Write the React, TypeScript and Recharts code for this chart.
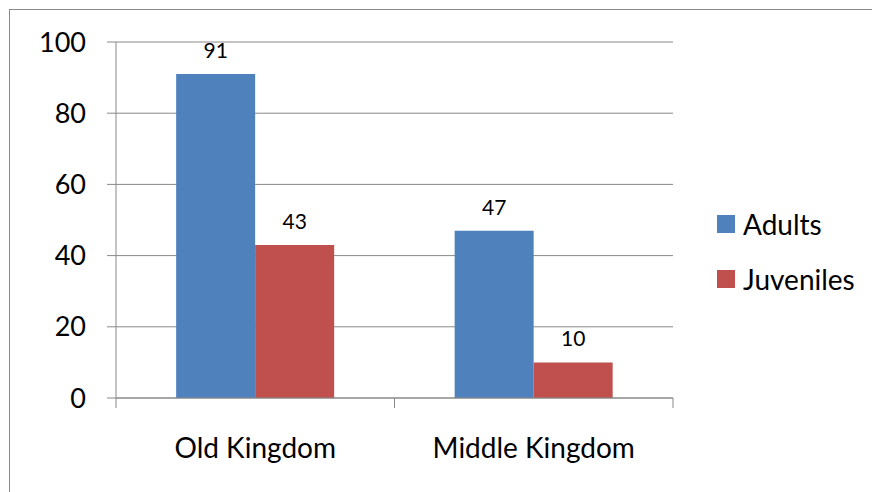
import React from 'react';
import { BarChart, Bar, XAxis, YAxis, CartesianGrid, Legend, LabelList } from 'recharts';

const periods = ['Old Kingdom', 'Middle Kingdom'];
const adults = [91, 47];
const juveniles = [43, 10];
const yTicks = [0, 20, 40, 60, 80, 100];

const BLUE = '#4F81BD';
const RED = '#C0504D';
const GRAY = '#898989';
const FONT = 'Lato, "Open Sans", sans-serif';
const LABEL_GAP = 40;

const data = periods.map((p, i) => ({ period: p, Adults: adults[i], Juveniles: juveniles[i] }));

const seriesList = [
  { key: 'Adults', color: BLUE },
  { key: 'Juveniles', color: RED },
];

// category label plus Excel-style tick marks on the category boundaries
const CategoryTick = (props: any) => {
  const { x, y, payload, index, visibleTicksCount } = props;
  const half = payload.offset || 0;
  const axisY = y - LABEL_GAP;
  return (
    <g>
      <line x1={x - half} x2={x - half} y1={axisY} y2={axisY + 10} stroke={GRAY} />
      {index === visibleTicksCount - 1 && (
        <line x1={x + half} x2={x + half} y1={axisY} y2={axisY + 10} stroke={GRAY} />
      )}
      <text x={x} y={y} dy="0.71em" textAnchor="middle" fill="#000" fontSize={28} fontFamily={FONT}>
        {payload.value}
      </text>
    </g>
  );
};

const LegendBox = () => (
  <div style={{ fontFamily: FONT, fontSize: 28, color: '#000' }}>
    {seriesList.map(s => (
      <div key={s.key} style={{ height: 55, display: 'flex', alignItems: 'center', whiteSpace: 'nowrap' }}>
        <div style={{ width: 18, height: 18, background: s.color, marginRight: 8 }} />
        <span>{s.key}</span>
      </div>
    ))}
  </div>
);

const App: React.FC = () => {
  return (
    <div style={{ position: 'relative', width: 872, height: 484 }}>
      <style>{'html, body { overflow: hidden; }'}</style>
      <div style={{ position: 'absolute', left: 1, top: 1, width: 880, height: 500, borderLeft: `1px solid ${GRAY}`, borderTop: `1px solid ${GRAY}` }} />
      <BarChart
        width={864}
        height={476}
        data={data}
        margin={{ top: 34, right: 49, left: 0, bottom: 0 }}
        barCategoryGap="21.6%"
        barGap={0}
      >
        <CartesianGrid vertical={false} stroke={GRAY} />
        <XAxis
          dataKey="period"
          height={86}
          axisLine={{ stroke: GRAY }}
          tickLine={false}
          tickSize={0}
          tickMargin={LABEL_GAP}
          tick={<CategoryTick />}
        />
        <YAxis
          width={108}
          domain={[0, 100]}
          ticks={yTicks}
          interval={0}
          axisLine={{ stroke: GRAY }}
          tickLine={{ stroke: GRAY }}
          tickSize={9}
          tickMargin={21}
          tick={{ fill: '#000', fontSize: 27, fontFamily: FONT }}
        />
        <Legend
          layout="vertical"
          align="right"
          verticalAlign="top"
          content={<LegendBox />}
          wrapperStyle={{ left: 709, top: 188, width: 150 }}
        />
        {seriesList.map(s => (
          <Bar key={s.key} dataKey={s.key} fill={s.color} isAnimationActive={false}>
            <LabelList dataKey={s.key} position="top" offset={16} fill="#000" fontSize={21} fontFamily={FONT} />
          </Bar>
        ))}
      </BarChart>
    </div>
  );
};

export default App;
